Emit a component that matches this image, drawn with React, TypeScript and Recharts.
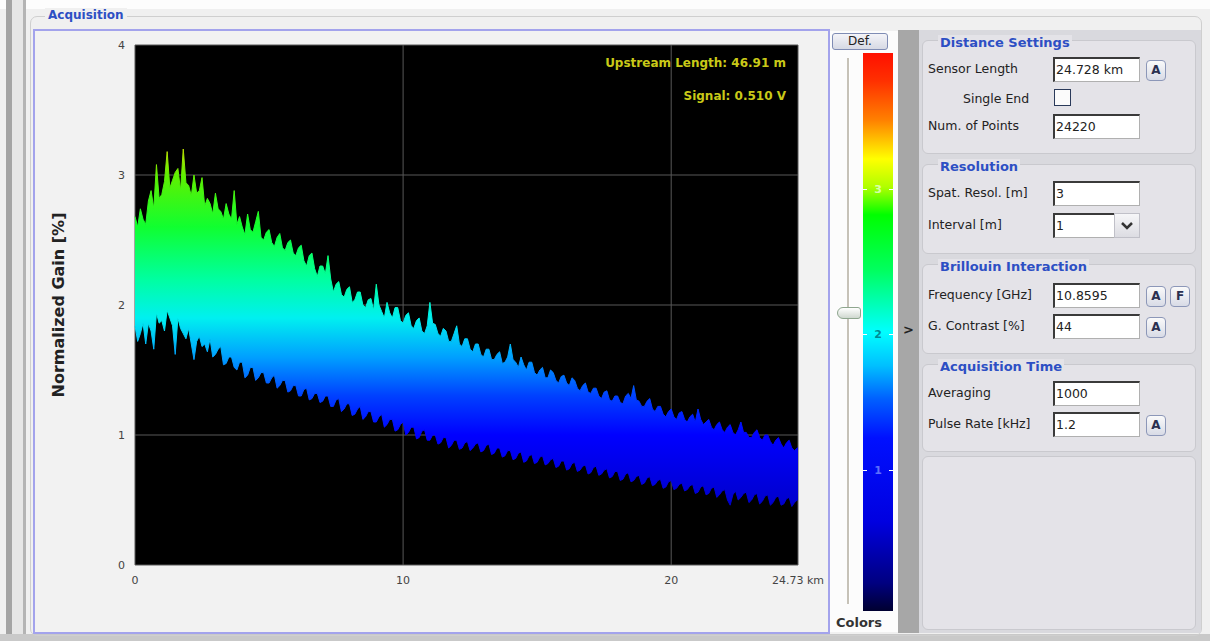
import { ComposedChart, Area, XAxis, YAxis, CartesianGrid } from "recharts";

// sampling grid of the trace (km) and the fibre end
const KM_STEP = 0.1;
const SENSOR_END_KM = 24.73;

// upper envelope of the gain trace, every 0.1 km (one row per km)
const GAIN_HIGH = [
  2.68, 2.6, 2.74, 2.66, 2.62, 2.8, 2.88, 2.74, 3.08, 2.82,
  2.85, 2.95, 3.18, 2.9, 2.96, 3.02, 3.05, 2.88, 3.2, 2.94,
  2.92, 2.84, 3.0, 2.86, 2.88, 2.98, 2.76, 2.82, 2.78, 2.7,
  2.86, 2.74, 2.72, 2.66, 2.78, 2.7, 2.66, 2.88, 2.62, 2.68,
  2.6, 2.54, 2.7, 2.58, 2.56, 2.64, 2.72, 2.52, 2.5, 2.56,
  2.58, 2.48, 2.45, 2.52, 2.55, 2.44, 2.42, 2.48, 2.5, 2.4,
  2.38, 2.44, 2.46, 2.34, 2.3, 2.38, 2.4, 2.28, 2.22, 2.3,
  2.3, 2.24, 2.38, 2.2, 2.1, 2.16, 2.18, 2.08, 2.06, 2.12,
  2.14, 2.02, 2.04, 2.1, 2.1, 2.0, 1.98, 2.04, 2.05, 1.96,
  2.16, 2.0, 1.95, 1.9, 2.02, 1.94, 1.9, 1.98, 1.98, 1.88,
  1.86, 1.92, 1.94, 1.84, 1.82, 1.88, 1.9, 1.8, 1.78, 1.84,
  2.02, 1.86, 1.85, 1.78, 1.76, 1.82, 1.8, 1.72, 1.72, 1.78,
  1.84, 1.7, 1.68, 1.74, 1.74, 1.66, 1.64, 1.7, 1.7, 1.62,
  1.6, 1.66, 1.66, 1.58, 1.58, 1.62, 1.64, 1.55, 1.56, 1.6,
  1.7, 1.58, 1.56, 1.52, 1.6, 1.54, 1.5, 1.56, 1.56, 1.48,
  1.46, 1.5, 1.52, 1.44, 1.44, 1.5, 1.48, 1.42, 1.4, 1.45,
  1.46, 1.4, 1.38, 1.44, 1.42, 1.36, 1.34, 1.38, 1.4, 1.33,
  1.32, 1.36, 1.36, 1.3, 1.28, 1.33, 1.34, 1.27, 1.26, 1.3,
  1.3, 1.25, 1.24, 1.3, 1.32, 1.28, 1.38, 1.27, 1.26, 1.22,
  1.22, 1.26, 1.28, 1.2, 1.18, 1.22, 1.22, 1.16, 1.14, 1.18,
  1.2, 1.14, 1.12, 1.17, 1.18, 1.12, 1.1, 1.14, 1.16, 1.1,
  1.2, 1.12, 1.08, 1.1, 1.12, 1.06, 1.04, 1.08, 1.1, 1.04,
  1.02, 1.06, 1.08, 1.02, 1.0, 1.04, 1.1, 1.02, 1.02, 0.98,
  0.98, 1.02, 1.04, 0.98, 0.96, 1.0, 1.0, 0.95, 0.92, 0.96,
  0.98, 0.93, 0.9, 0.94, 0.96, 0.9, 0.88, 0.9,
  0.9,
];

// lower envelope of the gain trace
const GAIN_LOW = [
  1.84, 1.72, 1.78, 1.86, 1.7, 1.86, 1.8, 1.66, 1.94, 1.86,
  1.88, 1.8, 1.96, 1.9, 1.84, 1.62, 1.9, 1.82, 1.78, 1.74,
  1.82, 1.7, 1.58, 1.72, 1.76, 1.68, 1.7, 1.64, 1.74, 1.6,
  1.62, 1.66, 1.68, 1.54, 1.55, 1.6, 1.6, 1.52, 1.5, 1.56,
  1.56, 1.44, 1.46, 1.52, 1.52, 1.42, 1.44, 1.48, 1.48, 1.4,
  1.4, 1.44, 1.46, 1.36, 1.38, 1.42, 1.42, 1.33, 1.34, 1.38,
  1.38, 1.3, 1.3, 1.35, 1.36, 1.27, 1.28, 1.32, 1.32, 1.25,
  1.26, 1.3, 1.3, 1.22, 1.22, 1.27, 1.28, 1.18, 1.2, 1.24,
  1.24, 1.15, 1.16, 1.2, 1.22, 1.12, 1.14, 1.18, 1.18, 1.1,
  1.1, 1.14, 1.16, 1.06, 1.08, 1.12, 1.12, 1.03, 1.04, 1.08,
  1.1, 1.0, 1.02, 1.06, 1.06, 0.97, 0.98, 1.03, 1.04, 0.96,
  0.96, 1.0, 1.0, 0.93, 0.94, 0.98, 0.98, 0.9, 0.92, 0.96,
  0.96, 0.89, 0.9, 0.94, 0.95, 0.88, 0.9, 0.93, 0.94, 0.87,
  0.88, 0.92, 0.93, 0.85, 0.86, 0.9, 0.9, 0.83, 0.84, 0.88,
  0.88, 0.81, 0.82, 0.86, 0.87, 0.79, 0.8, 0.84, 0.85, 0.78,
  0.79, 0.83, 0.84, 0.77, 0.78, 0.81, 0.82, 0.75, 0.76, 0.8,
  0.8, 0.73, 0.74, 0.78, 0.79, 0.72, 0.73, 0.76, 0.77, 0.7,
  0.71, 0.75, 0.76, 0.69, 0.7, 0.73, 0.74, 0.67, 0.68, 0.72,
  0.72, 0.65, 0.66, 0.7, 0.71, 0.64, 0.65, 0.68, 0.69, 0.62,
  0.63, 0.67, 0.68, 0.61, 0.62, 0.65, 0.66, 0.59, 0.6, 0.64,
  0.65, 0.58, 0.59, 0.62, 0.63, 0.57, 0.58, 0.61, 0.62, 0.55,
  0.56, 0.6, 0.61, 0.54, 0.55, 0.59, 0.6, 0.52, 0.54, 0.57,
  0.58, 0.5, 0.46, 0.54, 0.57, 0.5, 0.52, 0.55, 0.56, 0.48,
  0.5, 0.54, 0.55, 0.47, 0.49, 0.53, 0.54, 0.46, 0.48, 0.52,
  0.53, 0.46, 0.47, 0.51, 0.52, 0.45, 0.48, 0.5,
  0.5,
];

const X_TICKS = [0, 10, 20, 24.73];
const Y_TICKS = [0, 1, 2, 3, 4];
const COLORBAR_LABELS = ["3", "2", "1"];

const data = GAIN_HIGH.map((hi, i) => ({
  km: Math.min(i * KM_STEP, SENSOR_END_KM),
  range: [GAIN_LOW[i], hi],
}));

const UI_FONT = "'DejaVu Sans', sans-serif";
const BLUE_TITLE = "#2d4fc4";

function GroupBox({ title, top, height }: { title?: string; top: number; height: number }) {
  return (
    <div
      style={{
        position: "absolute",
        left: 922,
        top,
        width: 274,
        height,
        background: "#e4e3e8",
        border: "1px solid #c9c9ce",
        borderRadius: 6,
        boxSizing: "border-box",
      }}
    >
      {title && (
        <div
          style={{
            position: "absolute",
            left: 15,
            top: -6,
            fontSize: 13,
            fontWeight: "bold",
            color: BLUE_TITLE,
            background: "#e4e3e8",
            padding: "0 2px",
          }}
        >
          {title}
        </div>
      )}
    </div>
  );
}

function SmallButton({ left, top, text }: { left: number; top: number; text: string }) {
  return (
    <div
      style={{
        position: "absolute",
        left,
        top,
        width: 18,
        height: 19,
        border: "1px solid #8c97b8",
        borderRadius: 4,
        background: "linear-gradient(#fafafa, #d8dbe6)",
        fontSize: 12,
        fontWeight: "bold",
        color: "#2a3050",
        textAlign: "center",
        lineHeight: "19px",
      }}
    >
      {text}
    </div>
  );
}

function Field({
  label,
  value,
  top,
  labelLeft = 928,
  width = 87,
  buttons = [],
}: {
  label: string;
  value: string;
  top: number;
  labelLeft?: number;
  width?: number;
  buttons?: string[];
}) {
  return (
    <>
      <div
        style={{
          position: "absolute",
          left: labelLeft,
          top: top + 4,
          fontSize: 12.5,
          color: "#222",
          whiteSpace: "nowrap",
        }}
      >
        {label}
      </div>
      <div
        style={{
          position: "absolute",
          left: 1053,
          top,
          width,
          height: 25,
          boxSizing: "border-box",
          background: "#fff",
          borderTop: "2px solid #3a3a3a",
          borderLeft: "2px solid #3a3a3a",
          borderBottom: "1px solid #b0b0b0",
          borderRight: "1px solid #b0b0b0",
          fontSize: 12.5,
          lineHeight: "21px",
          paddingLeft: 1,
          color: "#222",
          whiteSpace: "nowrap",
        }}
      >
        {value}
      </div>
      {buttons.map((b, i) => (
        <SmallButton key={b} left={1146 + i * 24} top={top + 3} text={b} />
      ))}
    </>
  );
}

export default function App() {
  return (
    <div
      style={{
        position: "absolute",
        left: 0,
        top: 0,
        width: 1210,
        height: 641,
        overflow: "hidden",
        background: "#f0f0f0",
        fontFamily: UI_FONT,
      }}
    >
      {/* window chrome */}
      <div style={{ position: "absolute", left: 0, top: 0, width: 1210, height: 9, background: "#fdfdfd" }} />
      <div style={{ position: "absolute", left: 6, top: 0, width: 6, height: 641, background: "#a4a4a4" }} />
      <div style={{ position: "absolute", left: 12, top: 0, width: 11, height: 641, background: "#e6e6e6" }} />
      <div style={{ position: "absolute", left: 23, top: 0, width: 3, height: 641, background: "#b4b4b4" }} />
      <div style={{ position: "absolute", left: 0, top: 634, width: 1210, height: 7, background: "#c9c9c9" }} />
      <div
        style={{
          position: "absolute",
          left: 30,
          top: 16,
          width: 1172,
          height: 620,
          border: "1px solid #cfcfcf",
          borderRadius: 7,
          boxSizing: "border-box",
        }}
      />
      <div
        style={{
          position: "absolute",
          left: 45,
          top: 8,
          padding: "0 3px",
          background: "#f0f0f0",
          fontSize: 12,
          fontWeight: "bold",
          color: BLUE_TITLE,
        }}
      >
        Acquisition
      </div>

      {/* chart frame */}
      <div
        style={{
          position: "absolute",
          left: 33,
          top: 29,
          width: 797,
          height: 605,
          border: "2px solid #a3a3ec",
          boxSizing: "border-box",
          background: "#f2f2f2",
        }}
      />

      <div style={{ position: "absolute", left: 0, top: 0 }}>
        <ComposedChart
          width={840}
          height={600}
          data={data}
          margin={{ top: 45, right: 42, bottom: 5, left: 45 }}
        >
          <defs>
            <linearGradient id="gainGrad" gradientUnits="userSpaceOnUse" x1="0" y1="45" x2="0" y2="565">
              <stop offset="0" stopColor="#ff0000" />
              <stop offset="0.075" stopColor="#ff6000" />
              <stop offset="0.15" stopColor="#ffc000" />
              <stop offset="0.2" stopColor="#c0e000" />
              <stop offset="0.25" stopColor="#60f000" />
              <stop offset="0.35" stopColor="#10ff30" />
              <stop offset="0.45" stopColor="#00ffa0" />
              <stop offset="0.525" stopColor="#00f0f0" />
              <stop offset="0.6" stopColor="#00a0ff" />
              <stop offset="0.675" stopColor="#0040ff" />
              <stop offset="0.75" stopColor="#0000ff" />
              <stop offset="0.875" stopColor="#0000d0" />
              <stop offset="1" stopColor="#000050" />
            </linearGradient>
          </defs>
          <CartesianGrid fill="#000" fillOpacity={1} stroke="#585858" strokeWidth={1} />
          <XAxis
            dataKey="km"
            type="number"
            domain={[0, SENSOR_END_KM]}
            ticks={X_TICKS}
            interval={0}
            height={30}
            axisLine={false}
            tickLine={false}
            tickMargin={5}
            tickFormatter={(v: number) => (v === SENSOR_END_KM ? `${v} km` : String(v))}
            tick={{ fontSize: 11, fill: "#444", fontFamily: UI_FONT }}
          />
          <YAxis
            type="number"
            domain={[0, 4]}
            ticks={Y_TICKS}
            width={90}
            axisLine={false}
            tickLine={false}
            tickMargin={4}
            tick={{ fontSize: 11, fill: "#444", fontFamily: UI_FONT }}
            label={{
              value: "Normalized Gain [%]",
              angle: -90,
              position: "insideLeft",
              offset: 13,
              style: { textAnchor: "middle", fontSize: 16, fontWeight: "bold", fill: "#222", fontFamily: UI_FONT },
            }}
          />
          <Area
            type="linear"
            dataKey="range"
            stroke="url(#gainGrad)"
            strokeWidth={1}
            fill="url(#gainGrad)"
            fillOpacity={1}
            dot={false}
            activeDot={false}
            isAnimationActive={false}
          />
        </ComposedChart>
      </div>

      <div
        style={{
          position: "absolute",
          right: 1210 - 786,
          top: 56,
          fontSize: 12,
          fontWeight: "bold",
          color: "#c9c918",
          whiteSpace: "nowrap",
        }}
      >
        Upstream Length: 46.91 m
      </div>
      <div
        style={{
          position: "absolute",
          right: 1210 - 786,
          top: 89,
          fontSize: 12,
          fontWeight: "bold",
          color: "#c9c918",
          whiteSpace: "nowrap",
        }}
      >
        Signal: 0.510 V
      </div>

      {/* colour scale column */}
      <div style={{ position: "absolute", left: 830, top: 31, width: 68, height: 601, background: "#fcfcfc" }} />
      <div
        style={{
          position: "absolute",
          left: 832,
          top: 33,
          width: 56,
          height: 17,
          boxSizing: "border-box",
          border: "1px solid #7f8cb4",
          borderRadius: 3,
          background: "linear-gradient(#f4f4f8, #d6d9e4)",
          fontSize: 12,
          textAlign: "center",
          lineHeight: "15px",
          color: "#222",
        }}
      >
        Def.
      </div>
      <div
        style={{
          position: "absolute",
          left: 847,
          top: 58,
          width: 2,
          height: 546,
          background: "#c6c2b8",
          borderRight: "1px solid #fff",
        }}
      />
      <div
        style={{
          position: "absolute",
          left: 837,
          top: 307,
          width: 24,
          height: 12,
          borderRadius: "6px 3px 3px 6px",
          background: "linear-gradient(#ffffff, #cfd8cf)",
          border: "1px solid #8ea68e",
          boxSizing: "border-box",
        }}
      />
      <div
        style={{
          position: "absolute",
          left: 863,
          top: 53,
          width: 30,
          height: 558,
          background:
            "linear-gradient(#ff1000 0%, #ff3000 5%, #ff8000 12%, #ffff00 19%, #b0ff00 24%, #00ff00 29%, #00ff60 39%, #00ffff 50%, #00c0ff 56%, #0060ff 62%, #0010ff 69%, #0000e0 84%, #000080 95%, #000030 100%)",
        }}
      />
      {COLORBAR_LABELS.map((t, i) => (
        <div
          key={t}
          style={{
            position: "absolute",
            left: 863,
            top: [183, 328, 464][i],
            width: 30,
            textAlign: "center",
            fontSize: 11,
            fontWeight: "bold",
            color: ["rgba(230,255,220,0.8)", "rgba(0,90,100,0.7)", "rgba(120,140,255,0.8)"][i],
          }}
        >
          <span style={{ position: "absolute", left: 0, top: 6, width: 4, height: 1, background: "#fff" }} />
          {t}
          <span style={{ position: "absolute", right: 0, top: 6, width: 4, height: 1, background: "#fff" }} />
        </div>
      ))}
      <div
        style={{
          position: "absolute",
          left: 836,
          top: 615,
          fontSize: 13,
          fontWeight: "bold",
          color: "#333",
        }}
      >
        Colors
      </div>
      <div style={{ position: "absolute", left: 898, top: 30, width: 21, height: 603, background: "#a7a7a7" }} />
      <div
        style={{
          position: "absolute",
          left: 903,
          top: 322,
          fontSize: 13,
          fontWeight: "bold",
          color: "#222",
        }}
      >
        &gt;
      </div>

      {/* settings panel */}
      <div style={{ position: "absolute", left: 919, top: 30, width: 282, height: 603, background: "#d9d9de" }} />
      <GroupBox title="Distance Settings" top={40} height={114} />
      <GroupBox title="Resolution" top={164} height={90} />
      <GroupBox title="Brillouin Interaction" top={264} height={90} />
      <GroupBox title="Acquisition Time" top={364} height={88} />
      <GroupBox top={456} height={174} />

      <Field label="Sensor Length" value="24.728 km" top={57} buttons={["A"]} />
      <div style={{ position: "absolute", left: 963, top: 91, fontSize: 12.5, color: "#222" }}>Single End</div>
      <div
        style={{
          position: "absolute",
          left: 1054,
          top: 89,
          width: 17,
          height: 17,
          boxSizing: "border-box",
          border: "1px solid #2a3a5a",
          background: "#fbfbfb",
        }}
      />
      <Field label="Num. of Points" value="24220" top={114} />
      <Field label="Spat. Resol. [m]" value="3" top={181} />
      <Field label="Interval [m]" value="1" top={213} width={62} />
      <div
        style={{
          position: "absolute",
          left: 1114,
          top: 213,
          width: 26,
          height: 25,
          boxSizing: "border-box",
          background: "linear-gradient(#f6f6f8, #dcdce2)",
          border: "1px solid #c0c0c8",
        }}
      >
        <svg width={24} height={23}>
          <path d="M7 9 L12 14 L17 9" stroke="#333" strokeWidth={2.5} fill="none" />
        </svg>
      </div>
      <Field label="Frequency [GHz]" value="10.8595" top={283} buttons={["A", "F"]} />
      <Field label="G. Contrast [%]" value="44" top={314} buttons={["A"]} />
      <Field label="Averaging" value="1000" top={381} />
      <Field label="Pulse Rate [kHz]" value="1.2" top={412} buttons={["A"]} />
    </div>
  );
}
